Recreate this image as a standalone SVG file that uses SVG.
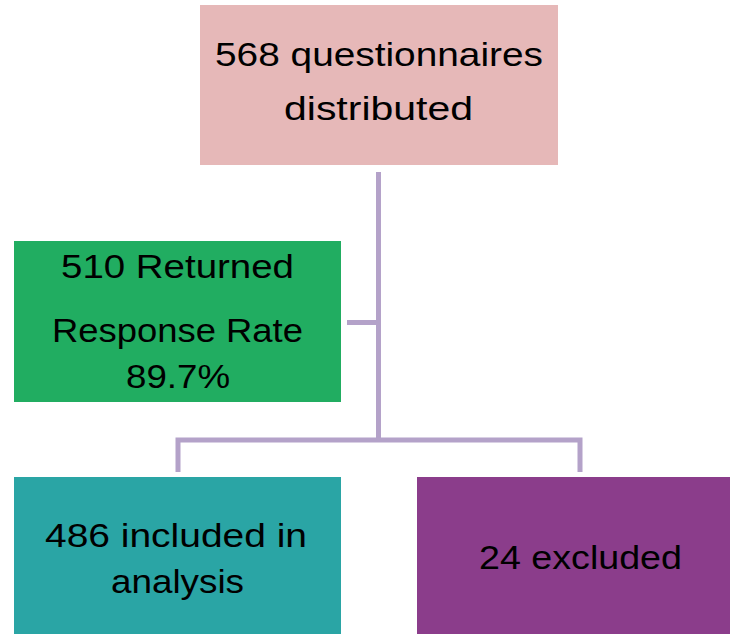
<svg xmlns="http://www.w3.org/2000/svg" width="730" height="634" viewBox="0 0 730 634">
  <style>
    .lbl { font-family: "Liberation Sans", Arial, sans-serif; font-size: 34px; fill: #000; }
    .link { fill: none; stroke: #b4a2c9; stroke-width: 5; }
  </style>
  <rect width="730" height="634" fill="#fff"/>

  <g id="connectors">
    <path class="link" d="M378.5,172 V440"/>
    <path class="link" d="M347,322.5 H378.5"/>
    <path class="link" d="M178,472 V440 H580 V472"/>
  </g>

  <g id="distributed">
    <rect x="200" y="5" width="358" height="160" fill="#e6b8b8"/>
    <text class="lbl" x="215" y="66" textLength="328" lengthAdjust="spacingAndGlyphs">568 questionnaires</text>
    <text class="lbl" x="284" y="120" textLength="189" lengthAdjust="spacingAndGlyphs">distributed</text>
  </g>

  <g id="returned">
    <rect x="14" y="241" width="327" height="161" fill="#21ad61"/>
    <text class="lbl" x="61" y="278" textLength="233" lengthAdjust="spacingAndGlyphs">510 Returned</text>
    <text class="lbl" x="52" y="342" textLength="251" lengthAdjust="spacingAndGlyphs">Response Rate</text>
    <text class="lbl" x="126" y="388" textLength="104" lengthAdjust="spacingAndGlyphs">89.7%</text>
  </g>

  <g id="included">
    <rect x="14" y="477" width="327" height="157" fill="#2aa5a5"/>
    <text class="lbl" x="45" y="547" textLength="262" lengthAdjust="spacingAndGlyphs">486 included in</text>
    <text class="lbl" x="111" y="593" textLength="133" lengthAdjust="spacingAndGlyphs">analysis</text>
  </g>

  <g id="excluded">
    <rect x="417" y="477" width="313" height="157" fill="#8b3d8b"/>
    <text class="lbl" x="479" y="569" textLength="203" lengthAdjust="spacingAndGlyphs">24 excluded</text>
  </g>
</svg>
